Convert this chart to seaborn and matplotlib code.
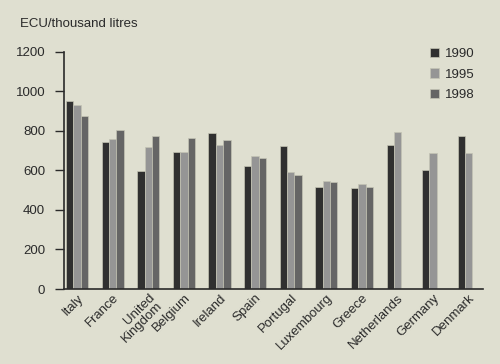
import pandas as pd
import matplotlib
matplotlib.use('Agg')
import matplotlib.pyplot as plt
import seaborn as sns

# Data
countries = ['Italy', 'France', 'United\nKingdom', 'Belgium', 'Ireland', 'Spain',
             'Portugal', 'Luxembourg', 'Greece', 'Netherlands', 'Germany', 'Denmark']
years = ['1990', '1995', '1998']
v1990 = [952, 742, 595, 691, 787, 623, 725, 516, 511, 727, 600, 774]
v1995 = [932, 757, 717, 691, 727, 672, 592, 546, 532, 792, 688, 688]
v1998 = [873, 804, 772, 762, 755, 661, 575, 540, 516, None, None, None]
colors = ['#303030', '#959595', '#656565']
bg = '#dfdfd0'
ink = '#2a2a2a'

rows = []
for vals, yr in zip([v1990, v1995, v1998], years):
    for c, v in zip(countries, vals):
        rows.append({'country': c, 'year': yr, 'value': v})
df = pd.DataFrame(rows)

sns.set_style('white')
plt.rcParams['font.family'] = ['Liberation Sans', 'DejaVu Sans']
fs = 9.5

fig = plt.figure(figsize=(5, 3.64), dpi=100, facecolor=bg)
ax = fig.add_axes([0.1286, 0.206, 0.8374, 0.652])
ax.set_facecolor(bg)

sns.barplot(data=df, x='country', y='value', hue='year', order=countries,
            hue_order=years, palette=colors, width=0.62, saturation=1,
            edgecolor='#c4c4b4', linewidth=0.5, ax=ax)

ax.set_ylim(0, 1200)
ax.set_xlim(-0.36, 11.4)
ax.set_yticks(range(0, 1201, 200))
ax.set_xlabel('')
ax.set_ylabel('')

for s in ['top', 'right']:
    ax.spines[s].set_visible(False)
for s in ['left', 'bottom']:
    ax.spines[s].set_color(ink)
    ax.spines[s].set_linewidth(1.2)

ax.tick_params(axis='y', length=6.2, width=1, color=ink, labelsize=fs,
               labelcolor=ink, pad=7.5, left=True)
ax.tick_params(axis='x', length=0, labelsize=fs, labelcolor=ink, pad=2)
plt.setp(ax.get_xticklabels(), rotation=45, ha='right', rotation_mode='anchor',
         linespacing=0.85)

fig.text(0.04, 0.935, 'ECU/thousand litres', fontsize=fs, color=ink,
         va='center')

leg = ax.legend(loc='upper left', bbox_to_anchor=(0.86, 0.868),
                bbox_transform=fig.transFigure, frameon=False,
                fontsize=fs, handlelength=0.7, handleheight=0.7,
                handletextpad=0.4, labelspacing=0.62, borderpad=0,
                borderaxespad=0)
for t in leg.get_texts():
    t.set_color(ink)

fig.savefig('out.png', dpi=100, facecolor=bg)
